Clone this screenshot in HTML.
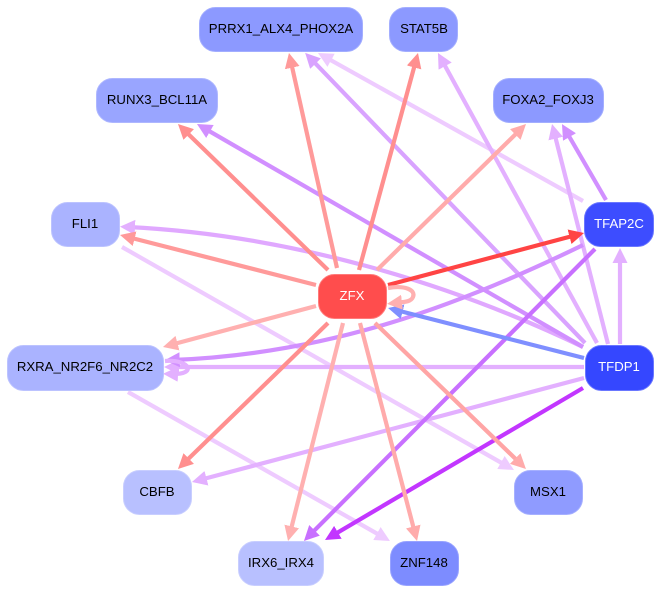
<!DOCTYPE html>
<html>
<head>
<meta charset="utf-8">
<style>
html,body{margin:0;padding:0;background:#fff}
svg{display:block}
text{font-family:"Liberation Sans",sans-serif;font-size:13.2px;text-anchor:middle;fill:#000}
line,path.e{stroke-width:4.2;fill:none}
rect{stroke-width:1}
</style>
</head>
<body>
<svg width="662" height="593" viewBox="0 0 662 593" xmlns="http://www.w3.org/2000/svg">
<defs>
<marker id="m1" markerUnits="userSpaceOnUse" markerWidth="17" markerHeight="16" refX="7" refY="8" orient="auto"><polygon points="0,0.5 15,8 0,15.5" fill="#ff9a9a"/></marker>
<marker id="m2" markerUnits="userSpaceOnUse" markerWidth="17" markerHeight="16" refX="7" refY="8" orient="auto"><polygon points="0,0.5 15,8 0,15.5" fill="#ff8f8f"/></marker>
<marker id="m3" markerUnits="userSpaceOnUse" markerWidth="17" markerHeight="16" refX="7" refY="8" orient="auto"><polygon points="0,0.5 15,8 0,15.5" fill="#ffabab"/></marker>
<marker id="m4" markerUnits="userSpaceOnUse" markerWidth="17" markerHeight="16" refX="7" refY="8" orient="auto"><polygon points="0,0.5 15,8 0,15.5" fill="#ff4444"/></marker>
<marker id="m5" markerUnits="userSpaceOnUse" markerWidth="17" markerHeight="16" refX="7" refY="8" orient="auto"><polygon points="0,0.5 15,8 0,15.5" fill="#7f8fff"/></marker>
<marker id="m6" markerUnits="userSpaceOnUse" markerWidth="17" markerHeight="16" refX="7" refY="8" orient="auto"><polygon points="0,0.5 15,8 0,15.5" fill="#e3b0ff"/></marker>
<marker id="m7" markerUnits="userSpaceOnUse" markerWidth="17" markerHeight="16" refX="7" refY="8" orient="auto"><polygon points="0,0.5 15,8 0,15.5" fill="#d9a3ff"/></marker>
<marker id="m8" markerUnits="userSpaceOnUse" markerWidth="17" markerHeight="16" refX="7" refY="8" orient="auto"><polygon points="0,0.5 15,8 0,15.5" fill="#d18fff"/></marker>
<marker id="m9" markerUnits="userSpaceOnUse" markerWidth="17" markerHeight="16" refX="7" refY="8" orient="auto"><polygon points="0,0.5 15,8 0,15.5" fill="#c236ff"/></marker>
<marker id="m10" markerUnits="userSpaceOnUse" markerWidth="17" markerHeight="16" refX="7" refY="8" orient="auto"><polygon points="0,0.5 15,8 0,15.5" fill="#eecbff"/></marker>
<marker id="m11" markerUnits="userSpaceOnUse" markerWidth="17" markerHeight="16" refX="7" refY="8" orient="auto"><polygon points="0,0.5 15,8 0,15.5" fill="#c870ff"/></marker>
<marker id="m12" markerUnits="userSpaceOnUse" markerWidth="17" markerHeight="16" refX="7" refY="8" orient="auto"><polygon points="0,0.5 15,8 0,15.5" fill="#ffb0b0"/></marker>
</defs>
<rect width="662" height="593" fill="#fff" stroke="none"/>

<!-- edges from TFDP1 / TFAP2C / others -->
<line x1="122" y1="247" x2="507" y2="466" stroke="#eecbff" marker-end="url(#m10)"/>
<line x1="128" y1="392" x2="383" y2="537" stroke="#eecbff" marker-end="url(#m10)"/>
<line x1="583" y1="201" x2="325" y2="56.9" stroke="#eecbff" marker-end="url(#m10)"/>
<line x1="584" y1="367" x2="172" y2="367" stroke="#e3b0ff" marker-end="url(#m6)"/>
<line x1="584" y1="378" x2="199.7" y2="480" stroke="#e3b0ff" marker-end="url(#m6)"/>
<line x1="620" y1="344" x2="620" y2="256" stroke="#e3b0ff" marker-end="url(#m6)"/>
<line x1="608" y1="344" x2="554" y2="131.8" stroke="#e3b0ff" marker-end="url(#m6)"/>
<line x1="597" y1="343" x2="441.8" y2="60" stroke="#e3b0ff" marker-end="url(#m6)"/>
<line x1="585" y1="343" x2="310.7" y2="58.6" stroke="#d9a3ff" marker-end="url(#m7)"/>
<path class="e" d="M583,347 C450,283 290,235 128,227" stroke="#e0a8ff" marker-end="url(#m6)"/>
<line x1="583" y1="347" x2="203.9" y2="128" stroke="#d18fff" marker-end="url(#m8)"/>
<line x1="606" y1="200" x2="566" y2="131" stroke="#d18fff" marker-end="url(#m8)"/>
<path class="e" d="M583,245 C460,305 330,354 172.7,360" stroke="#d18fff" marker-end="url(#m8)"/>
<line x1="595" y1="249" x2="309.6" y2="535.3" stroke="#c870ff" marker-end="url(#m11)"/>
<line x1="583" y1="388" x2="331.9" y2="535.9" stroke="#c236ff" marker-end="url(#m9)"/>
<line x1="584" y1="358" x2="395.8" y2="310" stroke="#7f8fff" marker-end="url(#m5)"/>

<!-- RXRA self loop -->
<path class="e" d="M165,361 C190,359 198,375 171,374" stroke="#e3b0ff" marker-end="url(#m6)"/>

<!-- edges from ZFX -->
<line x1="337" y1="268" x2="290.7" y2="60.8" stroke="#ff9a9a" marker-end="url(#m1)"/>
<line x1="359" y1="270" x2="415.9" y2="60.7" stroke="#ff8f8f" marker-end="url(#m2)"/>
<line x1="328" y1="270" x2="183.7" y2="129.6" stroke="#ff8f8f" marker-end="url(#m2)"/>
<line x1="377" y1="270" x2="520.3" y2="129.6" stroke="#ffabab" marker-end="url(#m3)"/>
<line x1="316" y1="285" x2="127.8" y2="237" stroke="#ff9a9a" marker-end="url(#m1)"/>
<line x1="388" y1="285" x2="576.3" y2="235" stroke="#ff4444" marker-end="url(#m4)"/>
<line x1="316" y1="306" x2="170.7" y2="344.9" stroke="#ffb0b0" marker-end="url(#m12)"/>
<line x1="328" y1="323" x2="183.7" y2="463.4" stroke="#ff8f8f" marker-end="url(#m2)"/>
<line x1="343" y1="323" x2="290" y2="533.2" stroke="#ffb0b0" marker-end="url(#m12)"/>
<line x1="360" y1="323" x2="415" y2="533.3" stroke="#ffabab" marker-end="url(#m3)"/>
<line x1="375" y1="323" x2="520.2" y2="463.4" stroke="#ffa5a5" marker-end="url(#m3)"/>
<path class="e" d="M388,288 C405,285 416,290 413,297 C411,302 404,302 395,303" stroke="#ffb0b0" marker-end="url(#m12)"/>

<!-- nodes -->
<rect x="199.5" y="7.5" width="163" height="44" rx="16" fill="#8c99ff" stroke="#a3aeff"/>
<rect x="389.5" y="7.5" width="68" height="44" rx="16" fill="#8c99ff" stroke="#a3aeff"/>
<rect x="96.5" y="78.5" width="121" height="44" rx="16" fill="#99a5ff" stroke="#aeb7ff"/>
<rect x="493.5" y="78.5" width="110" height="44" rx="16" fill="#8c99ff" stroke="#a3aeff"/>
<rect x="51.5" y="202.5" width="68" height="44" rx="16" fill="#aab3ff" stroke="#bcc3ff"/>
<rect x="584.5" y="202.5" width="69" height="44" rx="16" fill="#3d4dff" stroke="#6a77ff"/>
<rect x="318.5" y="274.5" width="68" height="44" rx="16" fill="#ff4d4d" stroke="#ff7a7a"/>
<rect x="7.5" y="345.5" width="156" height="45" rx="16" fill="#aab3ff" stroke="#bcc3ff"/>
<rect x="585.5" y="345.5" width="68" height="45" rx="16" fill="#3547ff" stroke="#6a77ff"/>
<rect x="123.5" y="470.5" width="68" height="44" rx="16" fill="#b8c0ff" stroke="#c8ceff"/>
<rect x="514.5" y="470.5" width="68" height="44" rx="16" fill="#8f9bff" stroke="#a6b0ff"/>
<rect x="238.5" y="541.5" width="85" height="44" rx="16" fill="#b8c0ff" stroke="#c8ceff"/>
<rect x="390.5" y="541.5" width="68" height="44" rx="16" fill="#7d8cff" stroke="#98a3ff"/>

<!-- labels -->
<text x="281" y="33">PRRX1_ALX4_PHOX2A</text>
<text x="424" y="33">STAT5B</text>
<text x="157" y="104">RUNX3_BCL11A</text>
<text x="548" y="104">FOXA2_FOXJ3</text>
<text x="85" y="228">FLI1</text>
<text x="619" y="228" style="fill:#fff">TFAP2C</text>
<text x="352" y="300" style="fill:#fff">ZFX</text>
<text x="85" y="371">RXRA_NR2F6_NR2C2</text>
<text x="619" y="371" style="fill:#fff">TFDP1</text>
<text x="157" y="496">CBFB</text>
<text x="548" y="496">MSX1</text>
<text x="281" y="567">IRX6_IRX4</text>
<text x="424" y="567">ZNF148</text>
</svg>
</body>
</html>
